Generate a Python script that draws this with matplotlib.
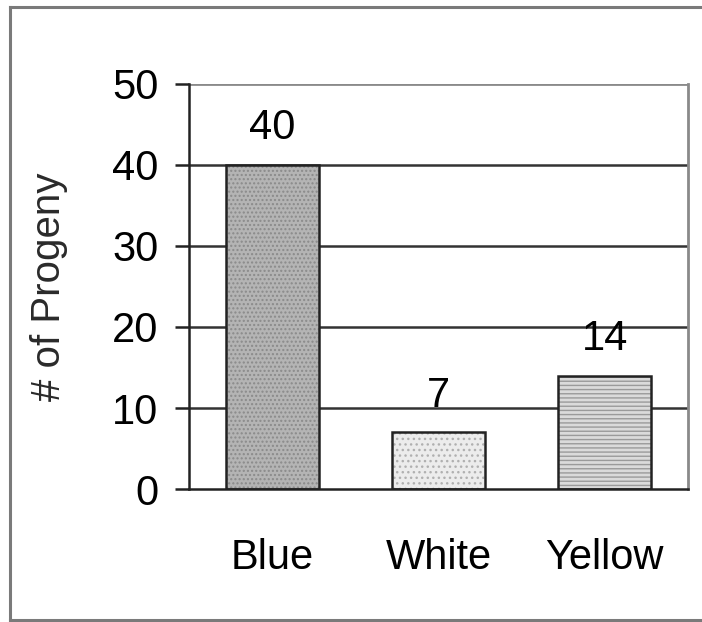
import matplotlib
matplotlib.use("Agg")
import matplotlib.pyplot as plt
from matplotlib.lines import Line2D

categories = ["Blue", "White", "Yellow"]
progeny = [40, 7, 14]
fills = ["#b4b4b4", "#ececec", "#dadada"]
hatches = ["....", "...", "----"]
hatch_cols = ["#8a8a8a", "#b0b0b0", "#9a9a9a"]
y_ticks = [0, 10, 20, 30, 40, 50]

plt.rcParams["font.family"] = ["Liberation Sans", "DejaVu Sans"]

fig = plt.figure(figsize=(7.02, 6.22), dpi=100)
ax = fig.add_axes([0.2692, 0.2138, 0.7108, 0.6512])

x = range(len(categories))
# hatched fill first, then a clean outline on top
ax.bar(x, progeny, width=0.56, color=fills, hatch=hatches, edgecolor=hatch_cols,
       linewidth=0, zorder=2)
bars = ax.bar(x, progeny, width=0.56, fill=False, edgecolor="#222222",
              linewidth=1.8, zorder=3)
ax.bar_label(bars, labels=[str(v) for v in progeny], padding=12, fontsize=30)

ax.set_xlim(-0.5, 2.5)
ax.set_ylim(0, 50)
ax.set_yticks(y_ticks)
ax.set_xticks(list(x), categories)
for v in y_ticks[1:-1]:
    ax.axhline(v, color="#333333", linewidth=1.8, zorder=1)
ax.axhline(50, color="#8a8a8a", linewidth=2, zorder=1)

ax.spines["top"].set_visible(False)
ax.spines["right"].set_color("#8a8a8a")
ax.spines["right"].set_linewidth(2)
for s in ["left", "bottom"]:
    ax.spines[s].set_color("#222222")
    ax.spines[s].set_linewidth(1.8)

ax.tick_params(axis="y", direction="out", length=10, width=1.8, color="#222222",
               labelsize=30, pad=12)
ax.tick_params(axis="x", length=0, labelsize=30, pad=35)
ax.set_ylabel("# of Progeny", fontsize=29, color="#2a2a2a", labelpad=32)

# outer frame of the pasted chart
frame = dict(color="#7a7a7a", linewidth=2.2, transform=fig.transFigure)
fig.add_artist(Line2D([10 / 702, 10 / 702], [1 - 7 / 622, 1 - 620 / 622], **frame))
fig.add_artist(Line2D([10 / 702, 1.0], [1 - 7 / 622, 1 - 7 / 622], **frame))
fig.add_artist(Line2D([10 / 702, 1.0], [1 - 620 / 622, 1 - 620 / 622], **frame))

fig.savefig("out.png", dpi=100)
